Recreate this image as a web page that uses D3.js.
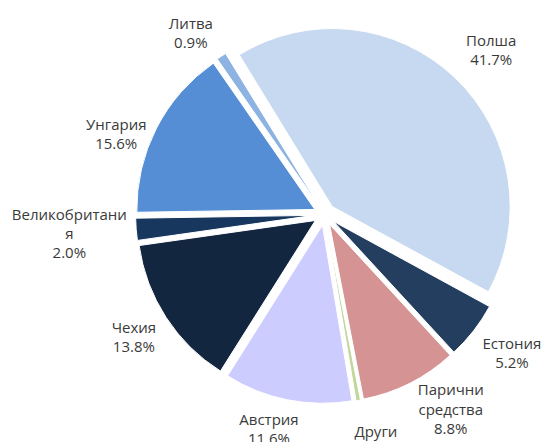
<!DOCTYPE html>
<html>
<head>
<meta charset="utf-8">
<script src="https://cdn.jsdelivr.net/npm/d3@7/dist/d3.min.js"></script>
<style>
  html, body { margin: 0; padding: 0; background: #ffffff; }
  svg { display: block; }
</style>
</head>
<body>
<svg id="chart" width="542" height="442"></svg>
<script>
// ---- data ----
const categories = ["Полша", "Естония", "Парични средства", "Други", "Австрия", "Чехия", "Великобритания", "Унгария", "Литва"];
const values = [41.7, 5.2, 8.8, 0.4, 11.6, 13.8, 2.0, 15.6, 0.9];
const labelLines = [["Полша"], ["Естония"], ["Парични", "средства"], ["Други"], ["Австрия"], ["Чехия"], ["Великобритани", "я"], ["Унгария"], ["Литва"]];
const colors = ["#C6D9F0", "#243E60", "#D59493", "#C3D69B", "#CCCCFF", "#132640", "#18375E", "#558ED5", "#8DB3E2"];

// ---- layout ----
const W = 542, H = 442;
const cx = 324.6, cy = 214.5;
const R = 178;
const explode = 11;
const labelR = 232;
const lineH = 19.3;
const startDeg = -31.5;
const labelNudge = [[6.7, 9.3], [4.5, 1], [21.5, -7], [10, 3.7], [-10, -7.6], [4, 2], [-24, 6.4], [-2, 31], [-7, 18.4]];

const svg = d3.select("#chart");
const g = svg.append("g").attr("transform", `translate(${cx},${cy})`);

const data = categories.map((c, i) => ({ cat: c, value: values[i], i }));
const pie = d3.pie().sort(null).value(d => d.value)
  .startAngle(startDeg * Math.PI / 180)
  .endAngle(startDeg * Math.PI / 180 + 2 * Math.PI);
const arcs = pie(data);
const arc = d3.arc().innerRadius(0).outerRadius(R);
const pct = d3.format(".1f");

g.selectAll("path.slice")
  .data(arcs)
  .join("path")
  .attr("class", "slice")
  .attr("d", arc)
  .attr("fill", d => colors[d.data.i])
  .attr("stroke", "#ffffff")
  .attr("stroke-width", 1)
  .attr("transform", d => {
    const a = (d.startAngle + d.endAngle) / 2;
    return `translate(${explode * Math.sin(a)},${-explode * Math.cos(a)})`;
  });

const labels = g.selectAll("text.lbl")
  .data(arcs)
  .join("text")
  .attr("class", "lbl")
  .attr("text-anchor", "middle")
  .attr("font-family", "'Open Sans', 'Noto Sans', sans-serif")
  .attr("font-size", 15)
  .attr("fill", "#3a3a3a");

labels.each(function(d) {
  const a = (d.startAngle + d.endAngle) / 2;
  const nx = labelNudge[d.data.i][0], ny = labelNudge[d.data.i][1];
  const x = labelR * Math.sin(a) + nx;
  const y = -labelR * Math.cos(a) + ny;
  const lines = labelLines[d.data.i].concat([pct(d.data.value) + "%"]);
  const y0 = y - (lines.length - 1) * lineH / 2;
  const t = d3.select(this);
  lines.forEach((ln, k) => {
    t.append("tspan").attr("x", x).attr("y", y0 + k * lineH).text(ln);
  });
});
</script>
</body>
</html>
